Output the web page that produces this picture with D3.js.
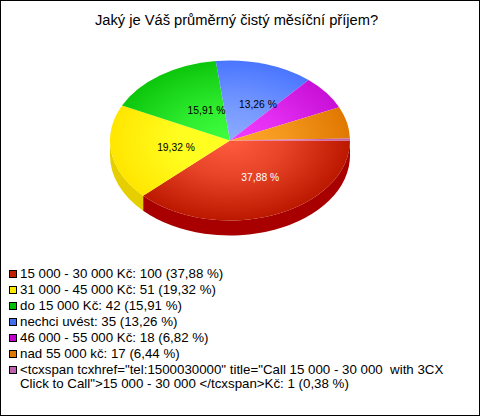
<!DOCTYPE html>
<html><head><meta charset="utf-8">
<script src="https://cdn.jsdelivr.net/npm/d3@7"></script>
<style>html,body{margin:0;padding:0;background:#fff}svg{display:block}text{font-family:"Liberation Sans",Arial,sans-serif;white-space:pre}</style>
</head><body><svg id="c" width="480" height="416"></svg>
<script>
const titleText = "Jaký je Váš průměrný čistý měsíční příjem?";
const categories = ["15 000 - 30 000 Kč","31 000 - 45 000 Kč","do 15 000 Kč","nechci uvést","46 000 - 55 000 Kč","nad 55 000 kč","<tcxspan tcxhref=\"tel:1500030000\" title=\"Call 15 000 - 30 000  with 3CX Click to Call\">15 000 - 30 000 </tcxspan>Kč"];
const values = [100,51,42,35,18,17,1];
const percents = ["37,88 %","19,32 %","15,91 %","13,26 %","6,82 %","6,44 %","0,38 %"];
const innerColors = ["#ff5c3e","#ffff22","#40ff40","#8cabff","#f23cff","#ffa92c","#e070c8"];
const outerColors = ["#bc1800","#ffe600","#0cc60c","#4a76ff","#c810d6","#e07800","#c060b0"];
const sideColors = ["#a80000","#e6cf00","#009000","#2a50c0","#900098","#b05800","#904080"];
const legendColors = ["#c02000","#ffe800","#00c000","#4070f0","#c000d0","#e07800","#c060b0"];
const labelNudge = [1.5,0.5,6,4];

const W=480,H=416,cx=230,cy=140.5,rx=120,ry=80,depth=15,minLabel=10;
const svg=d3.select("#c");
svg.append("rect").attr("x",0.5).attr("y",0.5).attr("width",W-1).attr("height",H-1).attr("fill","#fff").attr("stroke","#000");
svg.append("text").attr("x",236.5).attr("y",25).attr("text-anchor","middle").attr("font-size",14.7).attr("fill","#000").text(titleText);

const pie=d3.pie().sort(null).startAngle(Math.PI/2).endAngle(Math.PI/2+2*Math.PI)(values);
const defs=svg.append("defs");
pie.forEach((d,i)=>{
  const g=defs.append("radialGradient").attr("id","g"+i).attr("gradientUnits","userSpaceOnUse").attr("cx",0).attr("cy",0).attr("r",rx);
  g.append("stop").attr("offset","0%").attr("stop-color",innerColors[i]);
  g.append("stop").attr("offset","45%").attr("stop-color",d3.interpolateRgb(innerColors[i],outerColors[i])(i===1?0.1:0.35));
  g.append("stop").attr("offset","100%").attr("stop-color",outerColors[i]);
});
const k=ry/rx;
const G=svg.append("g").attr("transform",`translate(${cx},${cy}) scale(1,${k})`);
const off=depth/k;
pie.forEach((d,i)=>{
  const a0=Math.max(d.startAngle-Math.PI/2,0),a1=Math.min(d.endAngle-Math.PI/2,Math.PI);
  if(a1<=a0) return;
  const p=d3.path();
  p.arc(0,0,rx,a0,a1);
  p.lineTo(rx*Math.cos(a1),rx*Math.sin(a1)+off);
  p.arc(0,off,rx,a1,a0,true);
  p.closePath();
  G.append("path").attr("d",p.toString()).attr("fill",sideColors[i]);
});
const arc=d3.arc().innerRadius(0).outerRadius(rx);
G.selectAll("path.s").data(pie).join("path").attr("class","s").attr("d",arc).attr("fill",(d,i)=>`url(#g${i})`);

pie.forEach((d,i)=>{
  if(d.value/d3.sum(values)*100<minLabel) return;
  const m=(d.startAngle+d.endAngle)/2-Math.PI/2;
  svg.append("text").attr("x",cx+6+labelNudge[i]+0.51*rx*Math.cos(m)).attr("y",cy+4.5+0.48*ry*Math.sin(m))
    .attr("text-anchor","middle").attr("font-size",10.3).attr("fill",i===0?"#fff":"#000").text(percents[i]);
});

const lx=20, ly=278, lh=16;
const wrapAt=[null,null,null,null,null,null,"with 3CX "];
categories.forEach((c,i)=>{
  const y=ly+i*lh;
  svg.append("rect").attr("x",9.5).attr("y",y-7.5).attr("width",7).attr("height",7).attr("fill",legendColors[i]).attr("stroke","#000").attr("stroke-width",1);
  const full=`${c}: ${values[i]} (${percents[i]})`;
  const t=svg.append("text").attr("x",lx).attr("y",y).attr("font-size",13.3).attr("fill","#000");
  if(wrapAt[i]){
    const n=full.indexOf(wrapAt[i])+wrapAt[i].length;
    t.append("tspan").attr("x",lx).text(full.slice(0,n).trimEnd());
    t.append("tspan").attr("x",lx).attr("dy",14).text(full.slice(n));
  } else t.text(full);
});
</script></body></html>
